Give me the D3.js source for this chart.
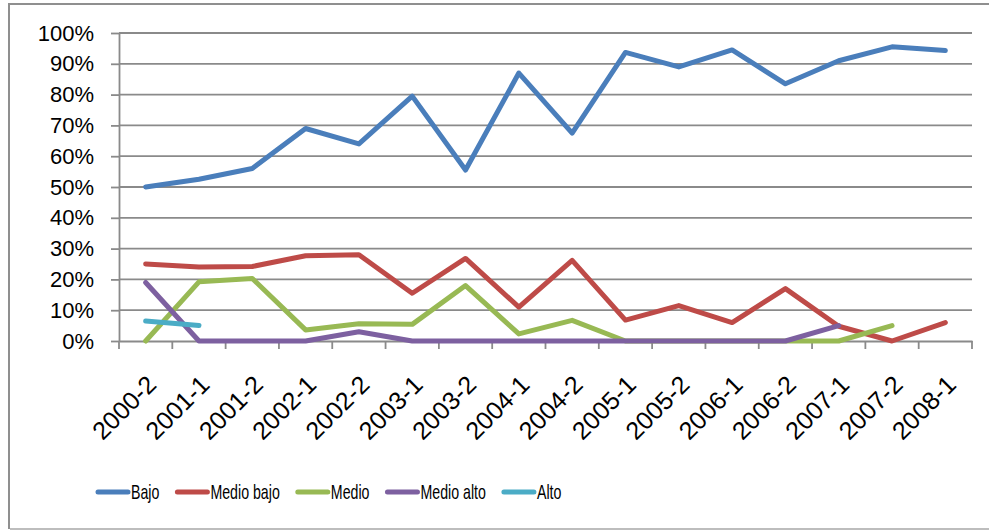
<!DOCTYPE html>
<html>
<head>
<meta charset="utf-8">
<script src="https://cdn.jsdelivr.net/npm/d3@7"></script>
<style>
  body { margin: 0; background: #fff; }
  svg { display: block; }
</style>
</head>
<body>
<div id="chart"></div>
<script>
// periods on the x axis
const categories = ["2000-2", "2001-1", "2001-2", "2002-1", "2002-2", "2003-1", "2003-2", "2004-1",
  "2004-2", "2005-1", "2005-2", "2006-1", "2006-2", "2007-1", "2007-2", "2008-1"];

const seriesNames = ["Bajo", "Medio bajo", "Medio", "Medio alto", "Alto"];

// shares per period (null = no value)
const bajo      = [0.50, 0.525, 0.56, 0.69, 0.64, 0.795, 0.555, 0.87, 0.675, 0.937, 0.89, 0.945, 0.835, 0.91, 0.955, 0.943];
const medioBajo = [0.25, 0.24, 0.242, 0.277, 0.28, 0.155, 0.268, 0.11, 0.262, 0.068, 0.115, 0.06, 0.17, 0.048, 0.0, 0.06];
const medio     = [0.0, 0.192, 0.203, 0.036, 0.056, 0.054, 0.18, 0.023, 0.067, 0.0, 0.0, 0.0, 0.0, 0.0, 0.05, null];
const medioAlto = [0.19, 0.0, 0.0, 0.0, 0.03, 0.0, 0.0, 0.0, 0.0, 0.0, 0.0, 0.0, 0.0, 0.05, null, null];
const alto      = [0.065, 0.05, null, null, null, null, null, null, null, null, null, null, null, null, null, null];

const yTicks = [0, 0.1, 0.2, 0.3, 0.4, 0.5, 0.6, 0.7, 0.8, 0.9, 1.0];

const colors = ["#4a7ebb", "#be4b48", "#98b954", "#7d60a0", "#4bacc6"];
const seriesValues = [bajo, medioBajo, medio, medioAlto, alto];

const width = 989, height = 530;
const margin = {left: 119, right: 17, top: 33, bottom: 189};
const gridColor = "#8a8a8a";
const labelFont = "'Liberation Sans', Arial, sans-serif";

const svg = d3.select("#chart").append("svg")
  .attr("width", width)
  .attr("height", height);

// outer frame (right edge is cut off in the original)
svg.append("path")
  .attr("d", `M${width + 2},4 H9 V529`)
  .attr("fill", "none")
  .attr("stroke", "#8f8f8f")
  .attr("stroke-width", 2);
svg.append("line")
  .attr("x1", 10).attr("x2", width).attr("y1", 529).attr("y2", 529)
  .attr("stroke", "#bdbdbd").attr("stroke-width", 2);

const x = d3.scaleBand()
  .domain(categories)
  .range([margin.left, width - margin.right])
  .paddingInner(0).paddingOuter(0);

const y = d3.scaleLinear()
  .domain([0, 1])
  .range([height - margin.bottom, margin.top]);

const fmt = d3.format(".0%");

// horizontal gridlines
svg.append("g")
  .selectAll("line")
  .data(yTicks.filter(d => d > 0))
  .join("line")
  .attr("x1", margin.left)
  .attr("x2", width - margin.right)
  .attr("y1", d => y(d))
  .attr("y2", d => y(d))
  .attr("stroke", gridColor)
  .attr("stroke-width", 1.8);

// y axis
const yAxis = svg.append("g")
  .attr("transform", `translate(${margin.left},0)`)
  .call(d3.axisLeft(y).tickValues(yTicks).tickFormat(fmt).tickSizeInner(8).tickSizeOuter(0).tickPadding(17));
yAxis.select(".domain").attr("stroke", gridColor).attr("stroke-width", 1.8);
yAxis.selectAll(".tick line").attr("stroke", gridColor).attr("stroke-width", 1.8);
yAxis.selectAll(".tick text")
  .attr("font-family", labelFont)
  .attr("font-size", 22)
  .attr("fill", "#000");

// x axis
const x0 = y(0);
const xAxis = svg.append("g")
  .attr("transform", `translate(0,${x0})`)
  .call(d3.axisBottom(x).tickSize(0).tickPadding(0));
xAxis.select(".domain").attr("stroke", gridColor).attr("stroke-width", 1.8);
xAxis.selectAll(".tick text")
  .attr("font-family", labelFont)
  .attr("font-size", 25)
  .attr("fill", "#000")
  .attr("text-anchor", "end")
  .attr("dy", "0.35em")
  .attr("y", 0)
  .attr("transform", "translate(6,39) rotate(-45)");

// boundary ticks between categories
const bounds = categories.map(c => x(c)).concat([x.range()[1]]);
svg.append("g")
  .selectAll("line")
  .data(bounds)
  .join("line")
  .attr("x1", d => d).attr("x2", d => d)
  .attr("y1", x0).attr("y2", x0 + 8)
  .attr("stroke", gridColor)
  .attr("stroke-width", 1.8);

// series lines
const line = d3.line()
  .defined(d => d.v != null)
  .x(d => x(d.c) + x.bandwidth() / 2)
  .y(d => y(d.v));

svg.append("g")
  .selectAll("path")
  .data(seriesValues.map((vals, i) => ({name: seriesNames[i], color: colors[i],
    points: vals.map((v, j) => ({c: categories[j], v}))})))
  .join("path")
  .attr("d", d => line(d.points))
  .attr("fill", "none")
  .attr("stroke", d => d.color)
  .attr("stroke-width", 5)
  .attr("stroke-linejoin", "round")
  .attr("stroke-linecap", "round");

// legend: condensed text, as in the original
const legend = svg.append("g").attr("transform", "translate(98,492)");
const squeeze = 0.71;
let lx = 0;
seriesNames.forEach((name, i) => {
  const g = legend.append("g").attr("transform", `translate(${lx},0)`);
  g.append("line")
    .attr("x1", 0).attr("x2", 30)
    .attr("stroke", colors[i])
    .attr("stroke-width", 5)
    .attr("stroke-linecap", "round");
  const t = g.append("text")
    .attr("transform", `translate(33,0) scale(${squeeze},1)`)
    .attr("dy", "0.36em")
    .attr("font-family", labelFont)
    .attr("font-size", 20)
    .attr("fill", "#000")
    .text(name);
  lx += 33 + t.node().getComputedTextLength() * squeeze + 18;
});
</script>
</body>
</html>
